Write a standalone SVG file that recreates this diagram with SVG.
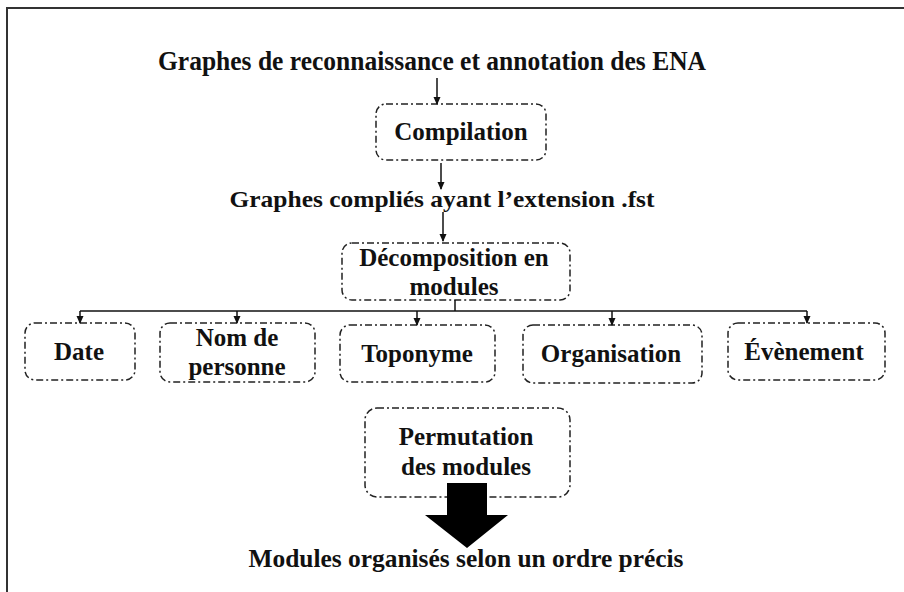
<svg xmlns="http://www.w3.org/2000/svg" width="904" height="592" viewBox="0 0 904 592">
<style>
.box{fill:#fff;stroke:#222;stroke-width:1.5;stroke-dasharray:7 3 2 3}
.t{font-family:"Liberation Serif","Times New Roman",serif;font-weight:bold;fill:#111;text-anchor:middle;font-size:25px}
.c{stroke:#111;stroke-width:1.5;fill:none}
</style>
<defs>
<marker id="ah" markerWidth="8" markerHeight="8" refX="7" refY="4" orient="auto" markerUnits="userSpaceOnUse">
<path d="M0,0.5 L8,4 L0,7.5 Z" fill="#111"/>
</marker>
</defs>
<rect x="0" y="0" width="904" height="592" fill="#fff"/>
<path d="M7,600 V8 H910" fill="none" stroke="#333" stroke-width="2"/>

<g id="title"><text class="t" x="432" y="70" style="font-size:27px" textLength="548" lengthAdjust="spacingAndGlyphs">Graphes de reconnaissance et annotation des ENA</text></g>

<g id="compilation"><rect class="box" x="376" y="104" width="170" height="56" rx="10"/><text class="t" x="461" y="140">Compilation</text></g>

<g id="compiled"><text class="t" x="442" y="207" style="font-size:24px" textLength="425" lengthAdjust="spacingAndGlyphs">Graphes compliés ayant l’extension .fst</text></g>

<g id="decomposition"><rect class="box" x="342" y="243" width="228" height="57" rx="10"/><text class="t" x="454" y="266">Décomposition en</text><text class="t" x="454" y="295">modules</text></g>

<g id="date"><rect class="box" x="25" y="323" width="110" height="57" rx="10"/><text class="t" x="79" y="360">Date</text></g>
<g id="nom"><rect class="box" x="160" y="323" width="155" height="59" rx="10"/><text class="t" x="237" y="346">Nom de</text><text class="t" x="237" y="375">personne</text></g>
<g id="toponyme"><rect class="box" x="340" y="325" width="155" height="57" rx="10"/><text class="t" x="417" y="362">Toponyme</text></g>
<g id="organisation"><rect class="box" x="523" y="325" width="179" height="58" rx="10"/><text class="t" x="611" y="362">Organisation</text></g>
<g id="evenement"><rect class="box" x="728" y="323" width="157" height="57" rx="10"/><text class="t" x="804" y="360">Évènement</text></g>

<g id="permutation"><rect class="box" x="365" y="408" width="205" height="89" rx="12"/><text class="t" x="466" y="445">Permutation</text><text class="t" x="466" y="475">des modules</text></g>

<g id="result"><text class="t" x="466" y="567" style="font-size:26px" textLength="435" lengthAdjust="spacingAndGlyphs">Modules organisés selon un ordre précis</text></g>

<g id="connectors">
<line class="c" x1="437" y1="78" x2="437" y2="104" marker-end="url(#ah)"/>
<line class="c" x1="441" y1="163" x2="441" y2="189" marker-end="url(#ah)"/>
<line class="c" x1="443" y1="212" x2="443" y2="241" marker-end="url(#ah)"/>
<polyline class="c" points="455,300 455,311"/>
<line class="c" x1="80" y1="311" x2="807" y2="311" stroke-width="2"/>
<line class="c" x1="80" y1="311" x2="80" y2="323" marker-end="url(#ah)"/>
<line class="c" x1="237" y1="311" x2="237" y2="323" marker-end="url(#ah)"/>
<line class="c" x1="417" y1="311" x2="417" y2="325" marker-end="url(#ah)"/>
<line class="c" x1="612" y1="311" x2="612" y2="325" marker-end="url(#ah)"/>
<line class="c" x1="807" y1="311" x2="807" y2="323" marker-end="url(#ah)"/>
<path d="M447,483 H487 V515 H508 L467,548 L425,515 H447 Z" fill="#000"/>
</g>
</svg>
